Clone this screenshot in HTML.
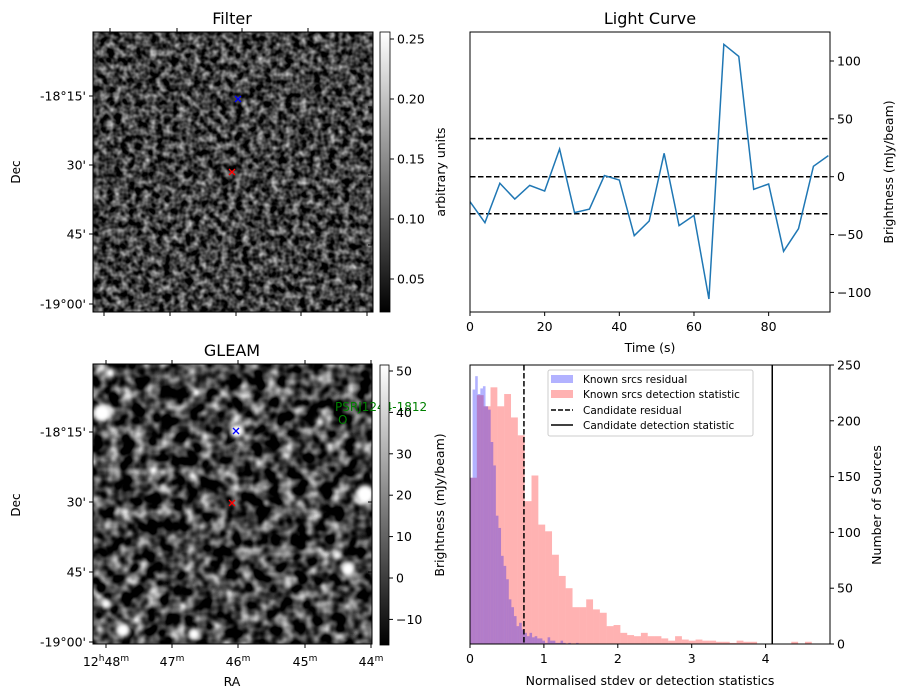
<!DOCTYPE html>
<html><head><meta charset="utf-8"><style>
body{margin:0;background:#fff;}
svg{display:block;font-family:"DejaVu Sans","Liberation Sans",sans-serif;}
</style></head><body>
<svg id="fig" width="907" height="699" viewBox="0 0 907 699">
<defs>
<filter id="noiseA" x="0" y="0" width="100%" height="100%" color-interpolation-filters="sRGB">
<feTurbulence type="fractalNoise" baseFrequency="0.14" numOctaves="2" seed="3"/>
<feColorMatrix type="matrix" values="1.3 0 0 0 -0.4  1.3 0 0 0 -0.4  1.3 0 0 0 -0.4  0 0 0 0 1"/>
</filter>
<filter id="noiseB" x="0" y="0" width="100%" height="100%" color-interpolation-filters="sRGB">
<feTurbulence type="fractalNoise" baseFrequency="0.075" numOctaves="2" seed="8"/>
<feColorMatrix type="matrix" values="1.8 0 0 0 -0.65  1.8 0 0 0 -0.65  1.8 0 0 0 -0.65  0 0 0 0 1"/>
</filter>
<filter id="blur"><feGaussianBlur stdDeviation="2"/></filter>
<linearGradient id="gray" x1="0" y1="1" x2="0" y2="0"><stop offset="0" stop-color="#000"/><stop offset="1" stop-color="#fff"/></linearGradient>
<clipPath id="clipB"><rect x="93" y="364" width="279" height="280"/></clipPath>
</defs>

<g>
<text x="232" y="24" font-size="16" text-anchor="middle">Filter</text>
<rect x="93" y="32" width="280" height="280" fill="#444" filter="url(#noiseA)"/>
<rect x="93" y="32" width="280" height="280" fill="none" stroke="#000" stroke-width="1"/>
<g stroke="red" stroke-width="1.3"><line x1="229" y1="169" x2="235" y2="175"/><line x1="235" y1="169" x2="229" y2="175"/></g>
<g stroke="blue" stroke-width="1.3"><line x1="235" y1="96" x2="241" y2="102"/><line x1="241" y1="96" x2="235" y2="102"/></g>
<g id="filterTicks" stroke="#000"></g>
<text x="20" y="172" font-size="12" text-anchor="middle" transform="rotate(-90 20 172)">Dec</text>
<rect x="380" y="32" width="10" height="280" fill="url(#gray)" stroke="#000" stroke-width="0.8"/>
<text x="445" y="172" font-size="12.5" text-anchor="middle" transform="rotate(-90 445 172)">arbitrary units</text>
</g>

<g>
<text x="232" y="356" font-size="16" text-anchor="middle">GLEAM</text>
<g clip-path="url(#clipB)">
<rect x="93" y="364" width="279" height="280" fill="#333" filter="url(#noiseB)"/>
<g fill="#fff" filter="url(#blur)">
<circle cx="102" cy="413" r="9"/><circle cx="110" cy="373" r="5"/><circle cx="237" cy="431" r="7"/>
<circle cx="320" cy="422" r="4"/><circle cx="365" cy="494" r="9"/><circle cx="348" cy="569" r="7"/>
<circle cx="337" cy="555" r="4"/><circle cx="106" cy="604" r="5"/><circle cx="123" cy="630" r="7"/>
<circle cx="194" cy="634" r="6"/><circle cx="163" cy="487" r="3"/>
</g>
</g>
<rect x="93" y="364" width="279" height="280" fill="none" stroke="#000"/>
<g stroke="red" stroke-width="1.3"><line x1="229" y1="500" x2="235" y2="506"/><line x1="235" y1="500" x2="229" y2="506"/></g>
<g stroke="blue" stroke-width="1.3"><line x1="233" y1="428" x2="239" y2="434"/><line x1="239" y1="428" x2="233" y2="434"/></g>
<text x="335" y="411" font-size="12" fill="green">PSRJ1244-1812</text>
<text x="338" y="424" font-size="12" fill="green">O</text>
<g id="gleamTicks" stroke="#000"></g>
<text x="20" y="505" font-size="12" text-anchor="middle" transform="rotate(-90 20 505)">Dec</text>
<text x="232" y="686" font-size="12.5" text-anchor="middle">RA</text>
<rect x="380" y="365" width="9" height="280" fill="url(#gray)" stroke="#000" stroke-width="0.8"/>
<text x="444" y="505" font-size="12.5" text-anchor="middle" transform="rotate(-90 444 505)">Brightness (mJy/beam)</text>
</g>

<g>
<text x="650" y="24" font-size="16" text-anchor="middle">Light Curve</text>
<g id="lc"></g>
<rect x="470" y="32" width="360" height="280" fill="none" stroke="#000"/>
<text x="650" y="352" font-size="12.5" text-anchor="middle">Time (s)</text>
<text x="893" y="172" font-size="12.5" text-anchor="middle" transform="rotate(-90 893 172)">Brightness (mJy/beam)</text>
</g>

<g>
<g id="hist"></g>
<rect x="470" y="365" width="360" height="279" fill="none" stroke="#000"/>
<text x="650" y="685" font-size="12.5" text-anchor="middle">Normalised stdev or detection statistics</text>
<text x="881" y="505" font-size="12.5" text-anchor="middle" transform="rotate(-90 881 505)">Number of Sources</text>
<g>
<rect x="548" y="370" width="205" height="66" fill="#fff" fill-opacity="0.8" stroke="#ccc" rx="2"/>
<rect x="551" y="375" width="22" height="8" fill="rgba(0,0,255,0.3)"/><text x="583" y="383" font-size="10.5">Known srcs residual</text>
<rect x="551" y="390" width="22" height="8" fill="rgba(255,0,0,0.3)"/><text x="583" y="398" font-size="10.5">Known srcs detection statistic</text>
<line x1="551" y1="410" x2="573" y2="410" stroke="#000" stroke-width="1.5" stroke-dasharray="5,2"/><text x="583" y="414" font-size="10.5">Candidate residual</text>
<line x1="551" y1="425" x2="573" y2="425" stroke="#000" stroke-width="1.5"/><text x="583" y="429" font-size="10.5">Candidate detection statistic</text>
</g>
</g>
</svg>
<script>
const lcTimes=[0,4,8,12,16,20,24,28,32,36,40,44,48,52,56,60,64,68,72,76,80,84,88,92,96];
const lcValues=[-21.6,-39.7,-5.7,-19.3,-7.5,-12.4,23.9,-31,-28,1,-2.9,-51,-38.3,20.2,-42.3,-33.4,-105.7,114.4,104,-10.9,-6.3,-64.5,-44.9,9,18.2];
const lcLevels=[32.9,0,-32];
const lcXTicks=[0,20,40,60,80];
const lcYTicks=[100,50,0,-50,-100];
const histBinWidthRed=0.0925;
const histRed=[149,223,213,230,213,224,203,187,128,151,107,101,80,61,50,33,33,40,31,28,16,17,10,8,7,10,7,7,5,3,7,4,3,4,3,3,2,2,1,3,2,2,0,0,0,0,0,2,0,2];
const histBinWidthBlue=0.035;
const histBlue=[149,228,240,224,229,231,213,210,181,160,115,104,79,70,58,40,33,25,16,19,13,10,7,10,6,7,5,5,3,1,6,3,3,1,1,3,1,0,1,0,0,1];
const candResidual=[0.73];
const candDetection=[4.09];
const histXTicks=[0,1,2,3,4];
const histYTicks=[0,50,100,150,200,250];
const decLabels=["-18°15'","30'","45'","-19°00'"];
const filterDecY=[96,165,234,304];
const gleamDecY=[432,502,572,642];
const raLabels=["48","47","46","45","44"];
const filterCbTicks=[0.05,0.10,0.15,0.20,0.25];
const gleamCbTicks=[-10,0,10,20,30,40,50];

const NS='http://www.w3.org/2000/svg';
const FS=12.5;
function mk(parent,tag,attrs,text){const e=document.createElementNS(NS,tag);for(const k in attrs)e.setAttribute(k,attrs[k]);if(text!==undefined)e.textContent=text;parent.appendChild(e);return e;}

const lcX=t=>470+t*3.733;
const lcY=v=>176.7-v*1.157;
const lc=document.getElementById('lc');
lcLevels.forEach(v=>{const l=mk(lc,'line',{x1:470,x2:830,y1:lcY(v),y2:lcY(v),stroke:'#000','stroke-width':1.5,'stroke-dasharray':'5.5,2.5'});

});
const pts=lcTimes.map((t,i)=>lcX(t)+','+lcY(lcValues[i])).join(' ');
const pl=mk(lc,'polyline',{points:pts,fill:'none',stroke:'#1f77b4','stroke-width':1.5});


lcXTicks.forEach(t=>{mk(lc,'line',{x1:lcX(t),x2:lcX(t),y1:312,y2:316,stroke:'#000'});
const tx=mk(lc,'text',{x:lcX(t),y:331,'font-size':FS,'text-anchor':'middle'},t);

});
lcYTicks.forEach(v=>{mk(lc,'line',{x1:830,x2:834,y1:lcY(v),y2:lcY(v),stroke:'#000'});
const tx=mk(lc,'text',{x:837,y:lcY(v)+4.5,'font-size':FS},v<0?'\u2212'+(-v):v);

});

const hX=v=>470+v*73.9;
const hY=c=>644-c*1.116;
const hist=document.getElementById('hist');
histRed.forEach((c,i)=>{if(!c)return;const r=mk(hist,'rect',{x:hX(i*histBinWidthRed),y:hY(c),width:histBinWidthRed*73.9,height:644-hY(c),fill:'rgba(255,0,0,0.3)'});

});
histBlue.forEach((c,i)=>{if(!c)return;const r=mk(hist,'rect',{x:hX(i*histBinWidthBlue),y:hY(c),width:histBinWidthBlue*73.9,height:644-hY(c),fill:'rgba(0,0,255,0.3)'});

});
candResidual.forEach(v=>{const l=mk(hist,'line',{x1:hX(v),x2:hX(v),y1:365,y2:644,stroke:'#000','stroke-width':1.5,'stroke-dasharray':'5.5,2.5'});

});
candDetection.forEach(v=>{const l=mk(hist,'line',{x1:hX(v),x2:hX(v),y1:365,y2:644,stroke:'#000','stroke-width':1.5});

});
histXTicks.forEach(t=>{mk(hist,'line',{x1:hX(t),x2:hX(t),y1:644,y2:648,stroke:'#000'});
const tx=mk(hist,'text',{x:hX(t),y:663,'font-size':FS,'text-anchor':'middle'},t);

});
histYTicks.forEach(v=>{mk(hist,'line',{x1:830,x2:834,y1:hY(v),y2:hY(v),stroke:'#000'});
const tx=mk(hist,'text',{x:837,y:hY(v)+4.5,'font-size':FS},v);

});

function imgAxes(g,ys,top,bot,topX,botX,rightYs){
 ys.forEach((y,i)=>{mk(g,'line',{x1:89,x2:93,y1:y,y2:y});
 const tx=mk(g,'text',{x:86,y:y+4.5,'font-size':FS,'text-anchor':'end',stroke:'none'},decLabels[i]);
 
 });
 topX.forEach(x=>mk(g,'line',{x1:x,x2:x,y1:top-4,y2:top}));
 botX.forEach(x=>mk(g,'line',{x1:x,x2:x,y1:bot,y2:bot+4}));
 rightYs.forEach(y=>mk(g,'line',{x1:372,x2:368,y1:y,y2:y}));
}
const fT=document.getElementById('filterTicks');
imgAxes(fT,filterDecY,32,312,[110,177,242,308],[104,170,236,301,367],[107,175,245]);
const gT=document.getElementById('gleamTicks');
imgAxes(gT,gleamDecY,364,644,[106,172,238,305,371],[106,172,238,305,371],[432,502,572]);
[106,172,238,305,371].forEach((x,i)=>{
 const tx=mk(gT,'text',{x:x,y:666,'font-size':FS,'text-anchor':'middle',stroke:'none'});
 tx.innerHTML=(i===0?'12<tspan dy="-5" font-size="9">h</tspan><tspan dy="5">':'<tspan>')+raLabels[i]+'</tspan><tspan dy="-5" font-size="9">m</tspan>';
 
 
});
const fcY=v=>279-(v-0.05)*1200;
filterCbTicks.forEach(v=>{mk(fT,'line',{x1:390,x2:394,y1:fcY(v),y2:fcY(v)});
const tx=mk(fT,'text',{x:397,y:fcY(v)+4.5,'font-size':FS,stroke:'none'},v.toFixed(2));

});
const gcY=v=>578-v*4.14;
gleamCbTicks.forEach(v=>{mk(gT,'line',{x1:389,x2:393,y1:gcY(v),y2:gcY(v)});
const tx=mk(gT,'text',{x:396,y:gcY(v)+4.5,'font-size':FS,stroke:'none'},v<0?'\u2212'+(-v):v);

});
</script>
</body></html>
